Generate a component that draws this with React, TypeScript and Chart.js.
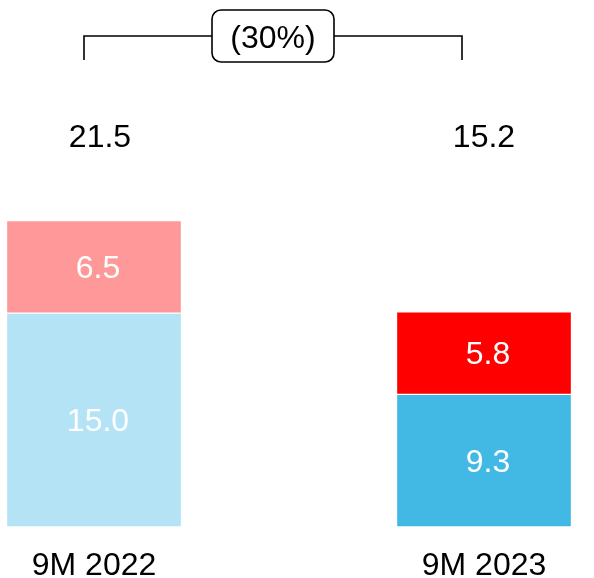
import React, { useEffect, useRef } from "react";
import { Chart, registerables } from "chart.js";

Chart.register(...registerables);

const categories = ["9M 2022", "9M 2023"];
const baseValues = [15.0, 9.3];
const topValues = [6.5, 5.8];
const totals = [21.5, 15.2];
const baseColors = ["#b3e3f4", "#41b9e4"];
const topColors = ["#ff9999", "#ff0000"];
const changeLabel = "(30%)";

const FONT = "'Liberation Sans', Arial, Helvetica, sans-serif";

const overlayPlugin = {
  id: "overlay",
  afterDatasetsDraw(chart: any) {
    const ctx = chart.ctx;
    const xs = chart.scales.x;
    const top = chart.chartArea.top;
    ctx.save();
    // values inside the bar segments
    ctx.font = `32px ${FONT}`;
    ctx.fillStyle = "#ffffff";
    ctx.textAlign = "center";
    ctx.textBaseline = "middle";
    chart.data.datasets.forEach((ds: any, d: number) => {
      const meta = chart.getDatasetMeta(d);
      meta.data.forEach((el: any, i: number) => {
        const p = el.getCenterPoint();
        ctx.fillText(Number(ds.data[i]).toFixed(1), p.x + 4, p.y + 2.5);
      });
    });
    // totals
    ctx.fillStyle = "#000000";
    const totalOffsets = [6, 0];
    totals.forEach((t, i) => {
      ctx.fillText(t.toFixed(1), xs.getPixelForValue(i) + totalOffsets[i], top + 110);
    });
    // bracket
    const left = xs.getPixelForValue(0) - 10;
    const right = xs.getPixelForValue(1) - 22;
    const lineY = top + 8;
    const tickBottom = top + 32;
    ctx.strokeStyle = "#000000";
    ctx.lineWidth = 1.6;
    ctx.beginPath();
    ctx.moveTo(left, tickBottom);
    ctx.lineTo(left, lineY);
    ctx.lineTo(right, lineY);
    ctx.lineTo(right, tickBottom);
    ctx.stroke();
    // box
    const cx = (left + right) / 2;
    const bw = 122;
    const bh = 52;
    const by = top - 18;
    ctx.beginPath();
    ctx.roundRect(cx - bw / 2, by, bw, bh, 9);
    ctx.fillStyle = "#ffffff";
    ctx.fill();
    ctx.stroke();
    ctx.fillStyle = "#000000";
    ctx.font = `32px ${FONT}`;
    ctx.fillText(changeLabel, cx, by + bh / 2 + 3);
    ctx.restore();
  },
};

export default function App() {
  const ref = useRef<HTMLCanvasElement | null>(null);
  useEffect(() => {
    document.body.style.margin = "0";
    if (!ref.current) return;
    const chart = new Chart(ref.current, {
      type: "bar",
      data: {
        labels: categories,
        datasets: [
          {
            data: baseValues,
            backgroundColor: baseColors,
            borderColor: "#ffffff",
            borderWidth: 1,
            borderSkipped: false,
            barThickness: 175,
            clip: false,
          },
          {
            data: topValues,
            backgroundColor: topColors,
            borderColor: "#ffffff",
            borderWidth: 1,
            borderSkipped: false,
            barThickness: 175,
            clip: false,
          },
        ],
      } as any,
      options: {
        animation: false,
        responsive: true,
        maintainAspectRatio: false,
        layout: { padding: { left: 94, right: 110, top: 28, bottom: 0 } },
        plugins: { legend: { display: false }, tooltip: { enabled: false } },
        scales: {
          x: {
            type: "category",
            stacked: true,
            offset: false,
            grid: { display: false, drawTicks: false },
            border: { display: false },
            ticks: {
              color: "#000000",
              font: { family: FONT, size: 32 },
              padding: 20,
              maxRotation: 0,
              autoSkip: false,
            },
            afterFit(scale: any) {
              scale.height = 51;
            },
          },
          y: {
            stacked: true,
            display: false,
            min: 0,
            max: 35,
          },
        },
      } as any,
      plugins: [overlayPlugin],
    });
    return () => chart.destroy();
  }, []);
  return (
    <div style={{ position: "fixed", left: 0, top: 0, width: 594, height: 578, background: "#ffffff" }}>
      <canvas ref={ref} />
    </div>
  );
}
